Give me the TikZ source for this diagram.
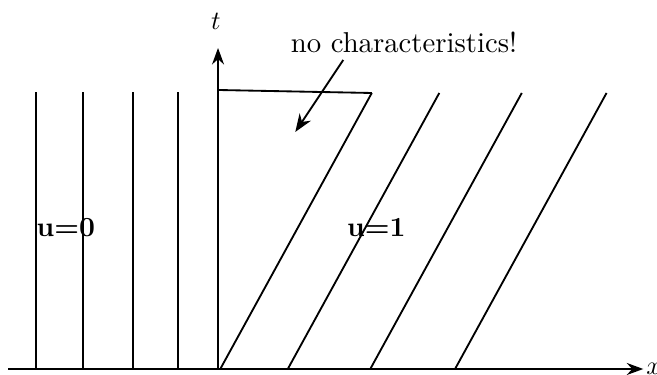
\documentclass[tikz,border=0pt]{standalone}
\usetikzlibrary{arrows.meta}

\tikzset{
    charline/.style={line width=0.7pt},
    axisline/.style={line width=0.7pt, -{Stealth[length=2.2mm, width=1.6mm]}},
    regionlabel/.style={font=\bfseries\fontsize{10.5}{12}\selectfont, inner sep=0pt}
}

\begin{document}
\begin{tikzpicture}

    \useasboundingbox (-2.907,-0.067) rectangle (5.853,4.92);

    % -------------------------------
    % 坐标轴
    % -------------------------------
    \coordinate (xstart) at (-2.80,0);
    \coordinate (xend) at (5.67,0);
    \coordinate (origin) at (0,0);
    \coordinate (tend) at (0,4.28);

    \draw[axisline] (xstart) -- (xend);
    \draw[axisline] (origin) -- (tend);
    \node[anchor=west, inner sep=1pt] (xlabel) at (xend) {$x$};
    \node (tlabel) at (-0.03,4.63) {$t$};

    % -------------------------------
    % 左侧：u=0，竖直特征线
    % -------------------------------
    \foreach \x in {-2.43,-1.80,-1.13,-0.53} {
        \draw[charline] (\x,0) -- (\x,3.69);
    }
    \node[regionlabel] (uleft) at (-2.03,1.89) {u=0};

    % -------------------------------
    % 右侧：u=1，斜特征线
    % -------------------------------
    \foreach \x in {0.03,0.93,2.03,3.16} {
        \draw[charline] (\x,0) -- ++(2.02,3.68);
    }
    \node[regionlabel] (uright) at (2.11,1.89) {u=1};

    % 顶边
    \coordinate (fantop) at (0,3.72);
    \coordinate (fancorner) at (2.05,3.68);
    \draw[charline] (fantop) -- (fancorner);

    % -------------------------------
    % 注释
    % -------------------------------
    \node[font=\fontsize{10.9}{13}\selectfont] (note) at (2.48,4.36) {no characteristics!};
    \coordinate (notetail) at (1.67,4.12);
    \coordinate (notehead) at (1.03,3.16);
    \draw[charline, -{Stealth[length=2.4mm, width=1.8mm]}] (notetail) -- (notehead);

\end{tikzpicture}
\end{document}
